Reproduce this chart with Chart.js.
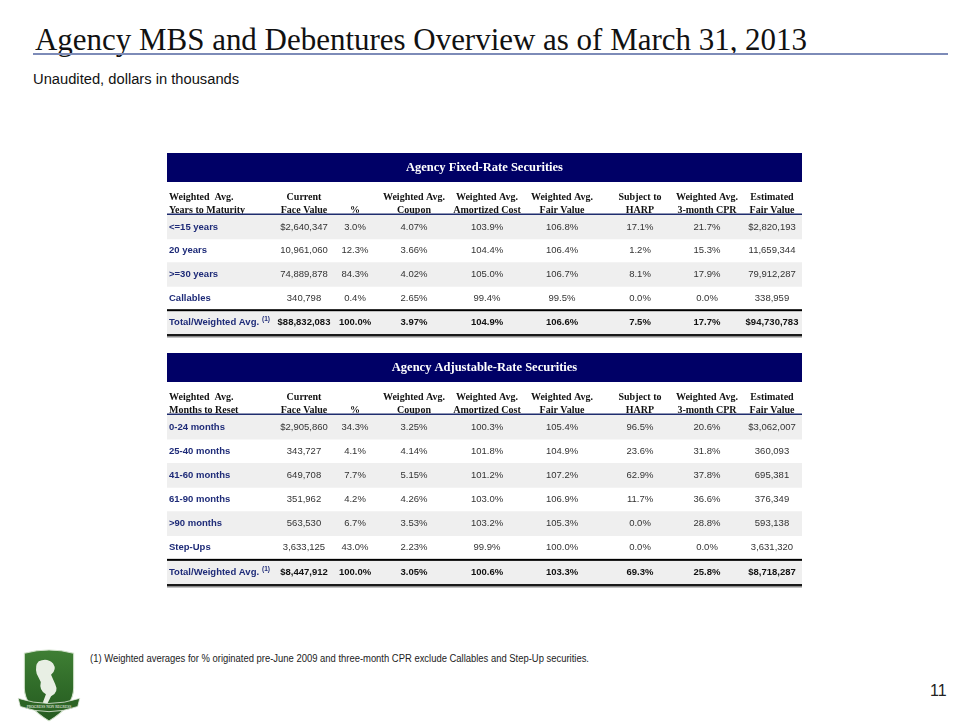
<!DOCTYPE html>
<html>
<head>
<meta charset="utf-8">
<title>Agency MBS and Debentures Overview</title>
<script src="https://cdn.jsdelivr.net/npm/chart.js@4.4.0/dist/chart.umd.min.js"></script>
<style>
  body { margin: 0; background: #fff; width: 970px; height: 727px; position: relative; overflow: hidden; }
  .txt { position: absolute; white-space: nowrap; line-height: 1; transform-origin: 0 0; display: inline-block; }
  #title { left: 35px; top: 21px; font: 32px "Liberation Serif", "Times New Roman", serif; color: #111; }
  #rule { position: absolute; left: 33px; top: 53px; width: 915px; height: 2px; background: #7d8bb8; }
  #subtitle { left: 33px; top: 71px; font: 14px "Liberation Sans", Arial, sans-serif; color: #111; }
  #note { left: 90px; top: 653px; font: 10px "Liberation Sans", Arial, sans-serif; color: #222; }
  #page { left: 930px; top: 682px; font: 16px "Liberation Sans", Arial, sans-serif; color: #222; }
  canvas { position: absolute; }
  #fixed { left: 160px; top: 145px; }
  #arm { left: 160px; top: 345px; }
  #logo { position: absolute; left: 16px; top: 647px; }
</style>
</head>
<body>
<div id="title" class="txt">Agency MBS and Debentures Overview as of March 31, 2013</div>
<div id="rule"></div>
<div id="subtitle" class="txt">Unaudited, dollars in thousands</div>

<canvas id="fixed" width="650" height="195"></canvas>
<canvas id="arm" width="650" height="245"></canvas>

<svg id="logo" width="66" height="78" viewBox="0 0 64 76">
  <defs>
    <linearGradient id="g" x1="0" y1="0" x2="0" y2="1">
      <stop offset="0" stop-color="#3f7f34"/>
      <stop offset="0.55" stop-color="#2f6a28"/>
      <stop offset="1" stop-color="#255a20"/>
    </linearGradient>
  </defs>
  <path d="M8 6 Q32 0 56 6 L56 40 Q56 58 32 72 Q8 58 8 40 Z" fill="url(#g)" stroke="#cfe0c8" stroke-width="1"/>
  <path d="M22 14 Q30 10 36 16 Q40 22 34 27 L38 36 Q42 44 34 48 L30 56 L26 54 L29 46 Q22 42 24 34 L20 26 Q18 18 22 14 Z" fill="#e8efe4"/>
  <path d="M2 50 Q32 60 62 50 L60 58 Q32 68 4 58 Z" fill="#2c6424" stroke="#dfe9da" stroke-width="0.8"/>
  <text x="32" y="59" font-family="Liberation Serif" font-size="3.6" fill="#fff" text-anchor="middle">PROGRESS NON REGRESS</text>
</svg>

<div id="note" class="txt">(1) Weighted averages for % originated pre-June 2009 and three-month CPR exclude Callables and Step-Up securities.</div>
<div id="page" class="txt">11</div>

<script>
// Agency Fixed-Rate Securities
const fixedRows = ['<=15 years', '20 years', '>=30 years', 'Callables', 'Total/Weighted Avg.'];
const fixedFace = [2640347, 10961060, 74889878, 340798, 88832083];
const fixedPct = [3.0, 12.3, 84.3, 0.4, 100.0];
const fixedCoupon = [4.07, 3.66, 4.02, 2.65, 3.97];
const fixedAmortCost = [103.9, 104.4, 105.0, 99.4, 104.9];
const fixedFairValue = [106.8, 106.4, 106.7, 99.5, 106.6];
const fixedHarp = [17.1, 1.2, 8.1, 0.0, 7.5];
const fixedCpr = [21.7, 15.3, 17.9, 0.0, 17.7];
const fixedEstFair = [2820193, 11659344, 79912287, 338959, 94730783];

// Agency Adjustable-Rate Securities
const armRows = ['0-24 months', '25-40 months', '41-60 months', '61-90 months', '>90 months', 'Step-Ups', 'Total/Weighted Avg.'];
const armFace = [2905860, 343727, 649708, 351962, 563530, 3633125, 8447912];
const armPct = [34.3, 4.1, 7.7, 4.2, 6.7, 43.0, 100.0];
const armCoupon = [3.25, 4.14, 5.15, 4.26, 3.53, 2.23, 3.05];
const armAmortCost = [100.3, 101.8, 101.2, 103.0, 103.2, 99.9, 100.6];
const armFairValue = [105.4, 104.9, 107.2, 106.9, 105.3, 100.0, 103.3];
const armHarp = [96.5, 23.6, 62.9, 11.7, 0.0, 0.0, 69.3];
const armCpr = [20.6, 31.8, 37.8, 36.6, 28.8, 0.0, 25.8];
const armEstFair = [3062007, 360093, 695381, 376349, 593138, 3631320, 8718287];

// column headers (two lines each)
const headTop = ['Weighted  Avg.', 'Current', '', 'Weighted Avg.', 'Weighted Avg.', 'Weighted Avg.', 'Subject to', 'Weighted Avg.', 'Estimated'];
const headBottomFixed = ['Years to Maturity', 'Face Value', '%', 'Coupon', 'Amortized Cost', 'Fair Value', 'HARP', '3-month CPR', 'Fair Value'];
const headBottomArm = ['Months to Reset', 'Face Value', '%', 'Coupon', 'Amortized Cost', 'Fair Value', 'HARP', '3-month CPR', 'Fair Value'];

// layout: column centres on the x scale (0..635 = table width)
const TABLE_W = 635;
const COL_X = [2, 137, 188, 247, 320, 395, 473, 540, 605];
const NAVY = '#000066';
const LABEL_BLUE = '#1e2b78';

let money = function (v, dollar) {
    let s = String(v).replace(/\B(?=(\d{3})+(?!\d))/g, ',');
    return (dollar ? '$' : '') + s;
};
let pct = function (d) {
    return function (v) { return v.toFixed(d) + '%'; };
};

let tablePlugin = {
    id: 'tableCells',
    afterDatasetsDraw: function (chart, args, opts) {
        const ctx = chart.ctx;
        const a = chart.chartArea;
        const x = chart.scales.x;
        const y = chart.scales.y;
        const w = a.right - a.left;
        const n = y.getLabels().length;

        ctx.save();
        // title bar
        ctx.fillStyle = NAVY;
        ctx.fillRect(a.left, a.top - 62, w, 29);
        ctx.fillStyle = '#fff';
        ctx.font = 'bold 12.5px "Liberation Serif"';
        ctx.textAlign = 'center';
        ctx.textBaseline = 'middle';
        ctx.fillText(opts.title, (a.left + a.right) / 2, a.top - 47);

        // column headers
        ctx.fillStyle = '#111';
        ctx.font = 'bold 10px "Liberation Serif"';
        for (let c = 0; c < COL_X.length; c++) {
            let px = x.getPixelForValue(COL_X[c]);
            ctx.textAlign = c === 0 ? 'left' : 'center';
            ctx.fillText(headTop[c], px, a.top - 18);
            ctx.fillText(opts.headBottom[c], px, a.top - 5);
        }

        // body rows
        for (let i = 0; i < n; i++) {
            let py = y.getPixelForValue(i);
            let total = i === n - 1;
            ctx.textAlign = 'left';
            ctx.fillStyle = LABEL_BLUE;
            ctx.font = 'bold 9.5px "Liberation Sans"';
            let lx = x.getPixelForValue(COL_X[0]);
            let label = y.getLabels()[i];
            ctx.fillText(label, lx, py);
            if (total) {
                let lw = ctx.measureText(label).width;
                ctx.font = 'bold 6.5px "Liberation Sans"';
                ctx.fillText('(1)', lx + lw + 3, py - 3);
            }
            ctx.textAlign = 'center';
            ctx.fillStyle = total ? '#111' : '#333';
            ctx.font = (total ? 'bold ' : '') + '9.5px "Liberation Sans"';
            opts.columns.forEach(function (col, c) {
                let txt = col.fmt(col.values[i], i === 0 || total);
                ctx.fillText(txt, x.getPixelForValue(COL_X[c + 1]), py);
            });
        }

        // header underline
        ctx.fillStyle = '#1f2d6e';
        ctx.fillRect(a.left, a.top - 1.5, w, 1.5);
        // rule above total row
        let sep = (y.getPixelForValue(n - 2) + y.getPixelForValue(n - 1)) / 2;
        ctx.fillStyle = '#000';
        ctx.fillRect(a.left, sep - 1, w, 2);
        // closing rule
        ctx.fillStyle = '#1a1a1a';
        ctx.fillRect(a.left, a.bottom, w, 2.5);
        ctx.fillStyle = '#8a8a8a';
        ctx.fillRect(a.left, a.bottom + 2.5, w, 1);
        ctx.restore();
    }
};

let tableDraw = function (id, title, rows, headBottom, columns) {
    let ctx = document.getElementById(id).getContext('2d');
    return new Chart(ctx, {
        type: 'bar',
        data: {
            labels: rows,
            datasets: [{
                // shaded stripes on every other row
                data: rows.map(function (r, i) { return i % 2 === 0 ? [0, TABLE_W] : null; }),
                backgroundColor: '#efefef',
                borderWidth: 0,
                barPercentage: 1,
                categoryPercentage: 1
            }]
        },
        options: {
            indexAxis: 'y',
            responsive: false,
            animation: false,
            events: [],
            layout: { padding: { top: 70, bottom: 6, left: 7, right: 8 } },
            scales: {
                x: { type: 'linear', min: 0, max: TABLE_W, display: false },
                y: { type: 'category', display: false, offset: true }
            },
            plugins: {
                legend: { display: false },
                tooltip: { enabled: false },
                tableCells: { title: title, headBottom: headBottom, columns: columns }
            }
        },
        plugins: [tablePlugin]
    });
};

tableDraw('fixed', 'Agency Fixed-Rate Securities', fixedRows, headBottomFixed, [
    { values: fixedFace, fmt: money },
    { values: fixedPct, fmt: pct(1) },
    { values: fixedCoupon, fmt: pct(2) },
    { values: fixedAmortCost, fmt: pct(1) },
    { values: fixedFairValue, fmt: pct(1) },
    { values: fixedHarp, fmt: pct(1) },
    { values: fixedCpr, fmt: pct(1) },
    { values: fixedEstFair, fmt: money }
]);

tableDraw('arm', 'Agency Adjustable-Rate Securities', armRows, headBottomArm, [
    { values: armFace, fmt: money },
    { values: armPct, fmt: pct(1) },
    { values: armCoupon, fmt: pct(2) },
    { values: armAmortCost, fmt: pct(1) },
    { values: armFairValue, fmt: pct(1) },
    { values: armHarp, fmt: pct(1) },
    { values: armCpr, fmt: pct(1) },
    { values: armEstFair, fmt: money }
]);

// squeeze page texts to the widths they have on the slide
let fitWidth = function (id, width) {
    let el = document.getElementById(id);
    el.style.transform = 'scaleX(' + (width / el.offsetWidth) + ')';
};
fitWidth('title', 772);
fitWidth('subtitle', 206);
fitWidth('note', 499);
</script>
</body>
</html>
